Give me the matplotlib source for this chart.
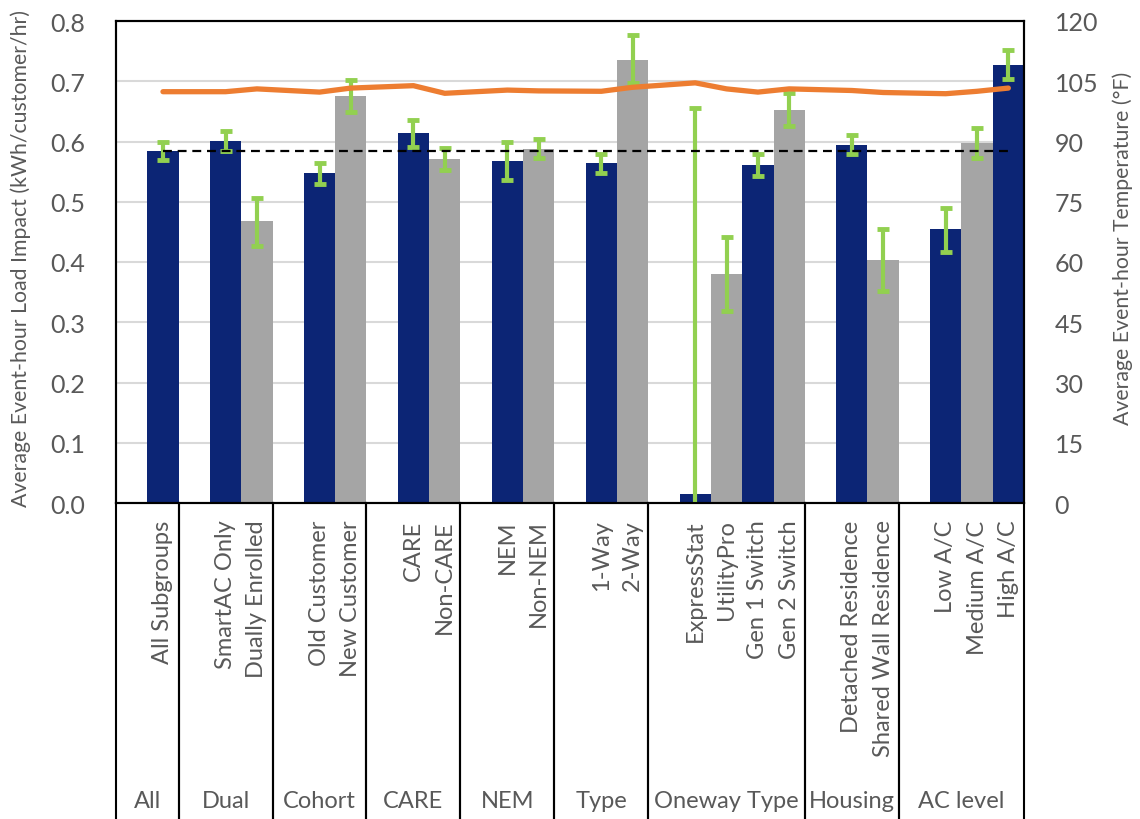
import numpy as np
import matplotlib.pyplot as plt
from matplotlib.transforms import blended_transform_factory

plt.rcParams['font.family'] = ['Lato', 'DejaVu Sans']

# subgroup categories, one list per group
groups = ['All', 'Dual', 'Cohort', 'CARE', 'NEM', 'Type', 'Oneway Type', 'Housing', 'AC level']
subgroups = [
    ['All Subgroups'],
    ['SmartAC Only', 'Dually Enrolled'],
    ['Old Customer', 'New Customer'],
    ['CARE', 'Non-CARE'],
    ['NEM', 'Non-NEM'],
    ['1-Way', '2-Way'],
    ['ExpressStat', 'UtilityPro', 'Gen 1 Switch', 'Gen 2 Switch'],
    ['Detached Residence', 'Shared Wall Residence'],
    ['Low A/C', 'Medium A/C', 'High A/C'],
]

# load impact (kWh/customer/hr) with confidence bounds
impact = [0.585,
          0.601, 0.468,
          0.548, 0.676,
          0.614, 0.571,
          0.568, 0.587,
          0.564, 0.736,
          0.015, 0.380, 0.561, 0.653,
          0.595, 0.403,
          0.454, 0.597, 0.727]
lower = [0.570,
         0.585, 0.426,
         0.530, 0.649,
         0.591, 0.553,
         0.536, 0.572,
         0.548, 0.697,
         -0.626, 0.318, 0.542, 0.625,
         0.580, 0.352,
         0.416, 0.572, 0.703]
upper = [0.599,
         0.617, 0.507,
         0.564, 0.702,
         0.636, 0.590,
         0.599, 0.604,
         0.579, 0.777,
         0.656, 0.442, 0.579, 0.680,
         0.610, 0.454,
         0.490, 0.622, 0.752]
# average event-hour temperature (F)
temperature = [102.4,
               102.4, 103.1,
               102.3, 103.3,
               103.9, 102.0,
               102.8, 102.6,
               102.5, 103.5,
               104.6, 103.1, 102.3, 103.1,
               102.7, 102.2,
               101.9, 102.5, 103.3]
overall = impact[0]

navy = '#0C2575'
gray = '#A5A5A5'
green = '#92D050'
orange = '#ED7D31'
txt = '#595959'

# x positions: one empty slot in front of each group, then one slot per bar
xs, colors, bounds = [], [], []
pos = 0
for subs in subgroups:
    start = pos
    pos += 1
    for i, s in enumerate(subs):
        xs.append(pos + 0.5)
        colors.append(navy if i % 2 == 0 else gray)
        pos += 1
    bounds.append((start, pos))
xs = np.array(xs)
total = pos

fig = plt.figure(figsize=(11.4, 8.2), dpi=100)
ax = fig.add_axes([116 / 1140, 1 - 504 / 820, 908 / 1140, 482 / 820])

ax.bar(xs, impact, width=1.0, color=colors, zorder=2)
imp = np.array(impact)
yerr = np.vstack([imp - np.array(lower), np.array(upper) - imp])
ax.errorbar(xs, imp, yerr=yerr, fmt='none', ecolor=green, elinewidth=3,
            capsize=4.5, capthick=3.5, zorder=3)
ax.plot(xs, [overall] * len(xs), color='black', lw=1.6,
        linestyle=(0, (4, 2.6)), zorder=4)

ax.set_xlim(0, total)
ax.set_ylim(0, 0.8)
ax.set_yticks(np.arange(0, 0.81, 0.1))
ax.set_yticklabels([f'{v:.1f}' for v in np.arange(0, 0.81, 0.1)])
ax.set_xticks([])
ax.grid(axis='y', color='#D9D9D9', lw=1.5, zorder=0)
ax.set_axisbelow(True)
ax.tick_params(axis='y', length=0, pad=22, labelsize=18, labelcolor=txt)
for sp in ax.spines.values():
    sp.set_color('black')
    sp.set_linewidth(1.5)
ax.set_ylabel('Average Event-hour Load Impact (kWh/customer/hr)',
              fontsize=15.3, color=txt)
ax.yaxis.set_label_coords(-0.094, 0.51)

ax2 = ax.twinx()
ax2.plot(xs, temperature, color=orange, lw=3.8, solid_capstyle='round',
         solid_joinstyle='round', zorder=5)
ax2.set_ylim(0, 120)
ax2.set_yticks(np.arange(0, 121, 15))
ax2.tick_params(axis='y', length=0, pad=22, labelsize=18, labelcolor=txt)
for sp in ax2.spines.values():
    sp.set_color('black')
    sp.set_linewidth(1.5)
ax2.set_ylabel('Average Event-hour Temperature (°F)', fontsize=15.3,
               color=txt, rotation=90)
ax2.yaxis.set_label_coords(1.097, 0.53)

# two-level category axis below the plot
tr = blended_transform_factory(ax.transData, ax.transAxes)
names = [s for subs in subgroups for s in subs]
for x, name in zip(xs, names):
    ax.text(x, -0.034, name, rotation=90, ha='center', va='top',
            fontsize=17, color=txt, transform=tr)
for g, (a, b) in zip(groups, bounds):
    ax.text((a + b) / 2, -0.618, g, ha='center', va='center',
            fontsize=17, color=txt, transform=tr)
for a, b in bounds:
    for edge in (a, b):
        ax.plot([edge, edge], [0, -0.7], color='black', lw=1.5,
                transform=tr, clip_on=False)

fig.savefig('out.png', dpi=100)
